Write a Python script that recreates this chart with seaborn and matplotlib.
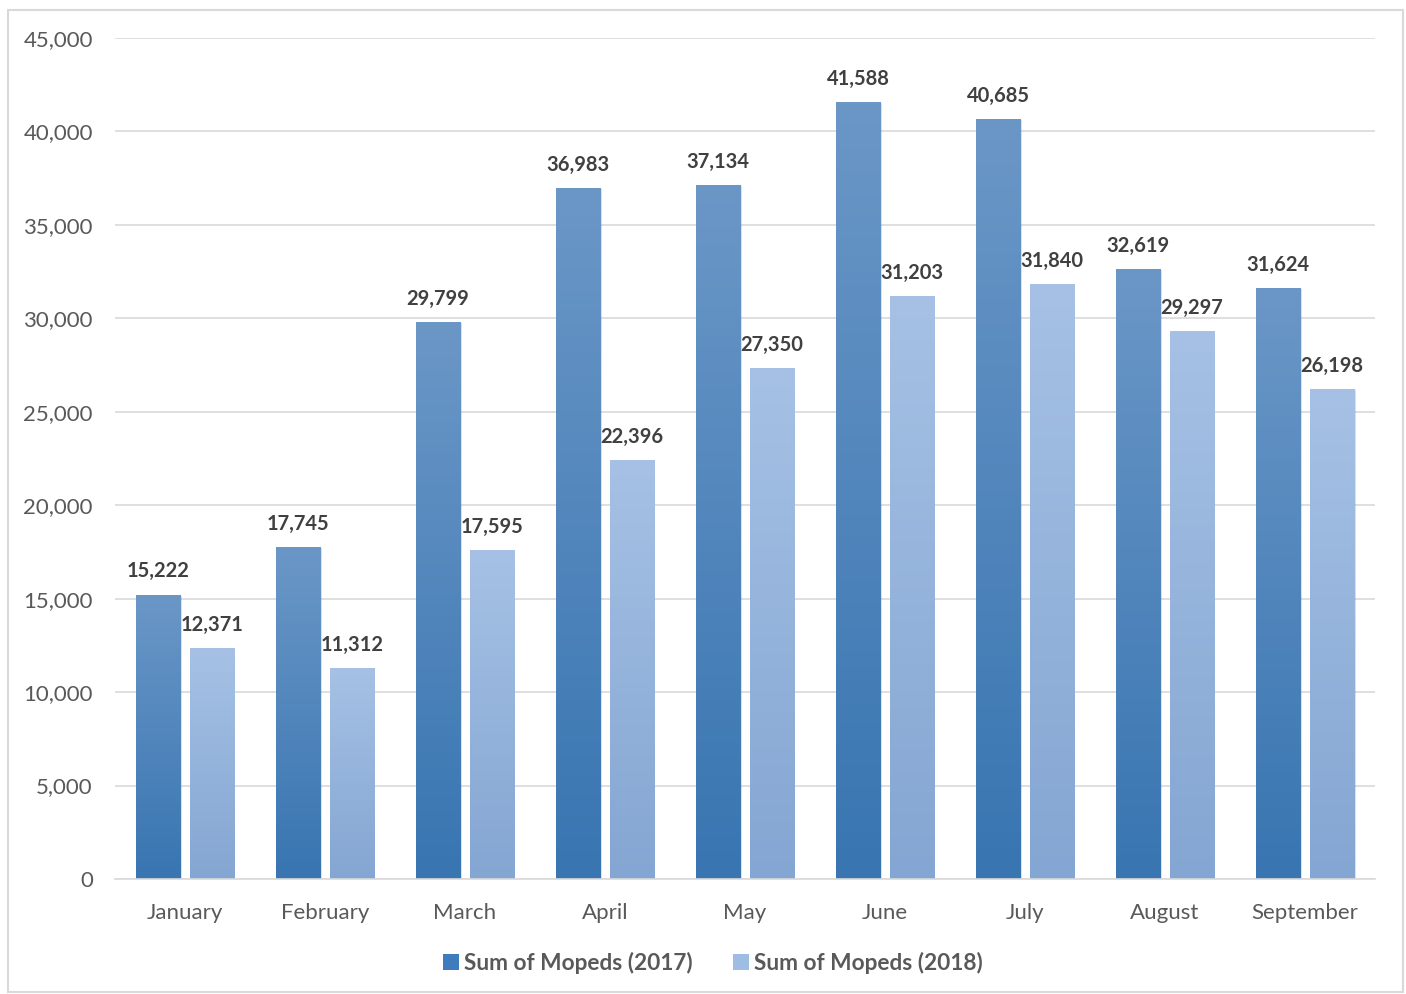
import numpy as np
import pandas as pd
import matplotlib
matplotlib.use('Agg')
import matplotlib.pyplot as plt
import matplotlib.colors as mcolors
from matplotlib.patches import Patch, Rectangle
import seaborn as sns

# Data
months = ['January', 'February', 'March', 'April', 'May', 'June', 'July', 'August', 'September']
mopeds_2017 = [15222, 17745, 29799, 36983, 37134, 41588, 40685, 32619, 31624]
mopeds_2018 = [12371, 11312, 17595, 22396, 27350, 31203, 31840, 29297, 26198]
series = ['Sum of Mopeds (2017)', 'Sum of Mopeds (2018)']

df = pd.DataFrame({
    'month': months * 2,
    'series': [series[0]] * len(months) + [series[1]] * len(months),
    'value': mopeds_2017 + mopeds_2018,
})

sns.set_theme(style='white')
plt.rcParams['font.family'] = ['Lato', 'DejaVu Sans']

fig = plt.figure(figsize=(14.06, 9.94), dpi=100)
ax = fig.add_axes([0.0818, 0.1157, 0.8962, 0.8461])

# gradient colours (top, bottom) per series
grads = {
    series[0]: ('#6b97c7', '#3875b1'),
    series[1]: ('#a6c1e5', '#84a6d2'),
}
legend_cols = {series[0]: '#3f7bbd', series[1]: '#9dbde5'}

sns.barplot(data=df, x='month', y='value', hue='series', hue_order=series,
            palette=legend_cols, width=0.77, gap=0.17, ax=ax, legend=False,
            errorbar=None, saturation=1)

# paint gradients on bars, add labels
for container, name in zip(ax.containers, series):
    top, bot = grads[name]
    cmap = mcolors.LinearSegmentedColormap.from_list(name, [bot, top])
    for bar, val in zip(container, container.datavalues):
        x0, w, h = bar.get_x(), bar.get_width(), bar.get_height()
        # soft shadow
        sh = Rectangle((x0 + 0.008, 0), w, h - 60, facecolor='#000000', alpha=0.12,
                       edgecolor='none', zorder=1.5)
        ax.add_patch(sh)
        bar.set_facecolor('none')
        bar.set_edgecolor('none')
        bar.set_zorder(2)
        grad = np.linspace(0, 1, 256).reshape(-1, 1)
        im = ax.imshow(grad, cmap=cmap, origin='lower', aspect='auto',
                       extent=(x0, x0 + w, 0, h), zorder=2)
        im.set_clip_path(bar)
        ax.text(x0 + w / 2, h + 700, f'{int(val):,}', ha='center', va='bottom',
                fontsize=14.5, fontweight='bold', color='#404040', zorder=3)

ax.set_xlim(-0.5, len(months) - 0.5)
ax.set_ylim(0, 45000)
ax.set_yticks(range(0, 45001, 5000))
ax.set_yticklabels([f'{v:,}' for v in range(0, 45001, 5000)])
ax.yaxis.grid(True, color='#d9d9d9', linewidth=1.2)
ax.set_axisbelow(True)
ax.set_xlabel('')
ax.set_ylabel('')
for s in ['top', 'right', 'left']:
    ax.spines[s].set_visible(False)
ax.spines['bottom'].set_color('#d9d9d9')
ax.spines['bottom'].set_linewidth(1.2)
ax.tick_params(axis='both', length=0, labelsize=16, labelcolor='#595959')
ax.tick_params(axis='y', pad=16)
ax.tick_params(axis='x', pad=17)

handles = [Patch(facecolor=legend_cols[s], edgecolor='none', label=s) for s in series]
leg = fig.legend(handles=handles, loc='center', bbox_to_anchor=(0.507, 0.031), ncol=2,
                 frameon=False, handlelength=0.7, handleheight=0.7, handletextpad=0.2,
                 columnspacing=1.8, prop={'size': 16.3, 'weight': 'bold'})
for t in leg.get_texts():
    t.set_color('#595959')

# outer chart border
fig.patches.append(Rectangle((0.006, 0.002), 0.992, 0.988, transform=fig.transFigure,
                             facecolor='none', edgecolor='#d9d9d9', linewidth=1.5))

fig.savefig('out.png', dpi=100)
